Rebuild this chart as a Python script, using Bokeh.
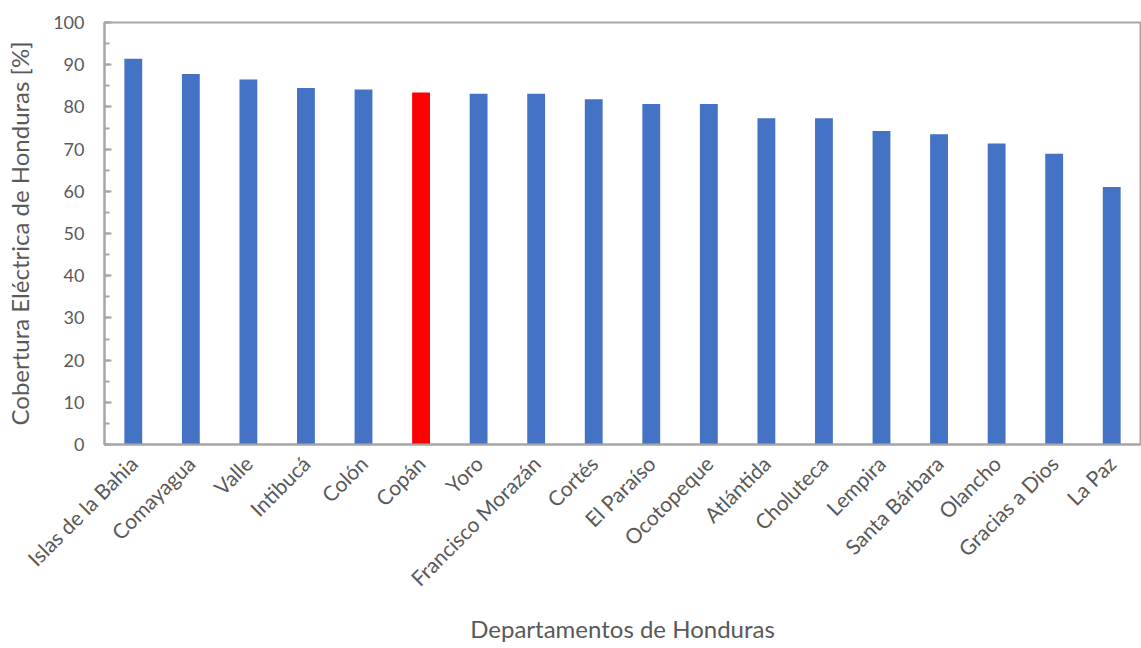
from math import pi
from bokeh.plotting import figure
from bokeh.models import ColumnDataSource, FactorRange, Range1d, SingleIntervalTicker
from bokeh.embed import file_html
from bokeh.resources import INLINE

departamentos = ["Islas de la Bahia", "Comayagua", "Valle", "Intibucá", "Colón", "Copán",
                 "Yoro", "Francisco Morazán", "Cortés", "El Paraíso", "Ocotopeque",
                 "Atlántida", "Choluteca", "Lempira", "Santa Bárbara", "Olancho",
                 "Gracias a Dios", "La Paz"]
cobertura = [91.4, 87.8, 86.5, 84.5, 84.1, 83.4, 83.1, 83.1, 81.8, 80.7, 80.7,
             77.3, 77.3, 74.3, 73.5, 71.3, 68.9, 61.0]
destacado = "Copán"

colores = ["#FF0000" if d == destacado else "#4472C4" for d in departamentos]
src = ColumnDataSource(dict(dep=departamentos, val=cobertura, color=colores))

FONT = "Lato"
TXT = "#595959"
AX = "#A6A6A6"

p = figure(x_range=FactorRange(*departamentos, range_padding=0),
           y_range=Range1d(0, 100),
           width=1141, height=648, output_backend="svg", toolbar_location=None,
           min_border_left=104, min_border_top=22, min_border_right=1, min_border_bottom=204)

p.vbar(x="dep", top="val", width=0.31, fill_color="color", line_color=None, source=src)

p.xgrid.grid_line_color = None
p.ygrid.grid_line_color = None
p.outline_line_color = AX
p.outline_line_width = 2

p.yaxis.ticker = SingleIntervalTicker(interval=10, num_minor_ticks=2)
for ax in (p.xaxis, p.yaxis):
    ax.axis_line_color = AX
    ax.axis_line_width = 2
    ax.major_label_text_font = FONT
    ax.major_label_text_color = TXT
    ax.axis_label_text_font = FONT
    ax.axis_label_text_color = TXT
    ax.axis_label_text_font_style = "normal"
    ax.axis_label_text_font_size = "24px"

p.yaxis.major_label_text_font_size = "18px"
p.xaxis.major_label_text_font_size = "21px"

p.yaxis.major_tick_in = 7
p.yaxis.major_tick_out = 0
p.yaxis.minor_tick_in = 5
p.yaxis.minor_tick_out = 0
p.yaxis.major_tick_line_color = AX
p.yaxis.minor_tick_line_color = AX
p.yaxis.major_tick_line_width = 2
p.yaxis.minor_tick_line_width = 2
p.yaxis.major_label_standoff = 20
p.yaxis.axis_label = "Cobertura Eléctrica de Honduras [%]"
p.yaxis.axis_label_standoff = 16

p.xaxis.major_tick_line_color = None
p.xaxis.minor_tick_line_color = None
p.xaxis.major_label_orientation = pi / 4
p.xaxis.major_label_standoff = 9
p.xaxis.axis_label = "Departamentos de Honduras"
p.xaxis.axis_label_standoff = 12

open("out.html", "w").write(file_html(p, INLINE))
